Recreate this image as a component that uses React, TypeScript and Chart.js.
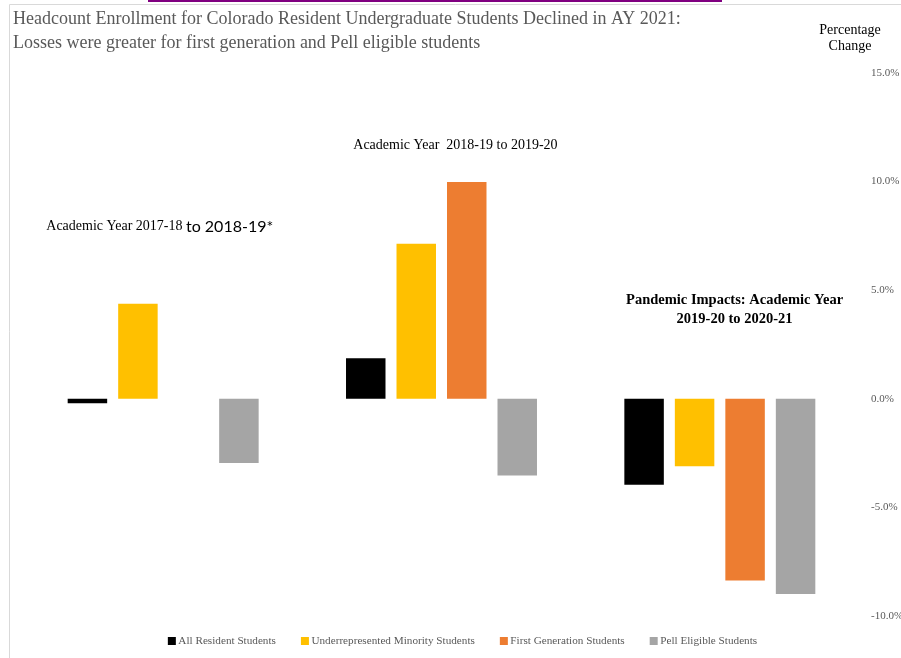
import React, { useEffect, useRef } from "react";
import { Chart, registerables } from "chart.js";

Chart.register(...registerables);

const categories = ["2017-18 to 2018-19", "2018-19 to 2019-20", "2019-20 to 2020-21"];
const seriesNames = [
  "All Resident Students",
  "Underrepresented Minority Students",
  "First Generation Students",
  "Pell Eligible Students",
];
const seriesColors = ["#000000", "#FFC000", "#ED7D31", "#A5A5A5"];
const allResident = [-0.2, 1.87, -3.96];
const underrepresented = [4.38, 7.14, -3.1];
const firstGeneration = [null, 9.98, -8.37];
const pellEligible = [-2.96, -3.53, -8.99];
const yMin = -10;
const yMax = 15;
const yStep = 5;

const titleLines = [
  "Headcount Enrollment for Colorado Resident Undergraduate Students Declined in AY 2021:",
  "Losses were greater for first generation and Pell eligible students",
];
const axisTitleLines = ["Percentage", "Change"];
const groupNote1Serif = "Academic Year 2017-18 ";
const groupNote1Sans = "to 2018-19*";
const groupNote2 = "Academic Year  2018-19 to 2019-20";
const groupNote3 = ["Pandemic Impacts: Academic Year", "2019-20 to 2020-21"];

const SERIF = '"Liberation Serif", "Times New Roman", serif';
const SANS = 'Lato, "Liberation Sans", sans-serif';

const overlayPlugin = {
  id: "overlay",
  afterDraw(chart: any) {
    const ctx = chart.ctx as CanvasRenderingContext2D;
    const xs = chart.scales.x;
    const ys = chart.scales.y;
    const area = chart.chartArea;
    ctx.save();

    // page frame
    ctx.strokeStyle = "#d9d9d9";
    ctx.lineWidth = 1;
    ctx.beginPath();
    ctx.moveTo(9.5, chart.height);
    ctx.lineTo(9.5, 4.5);
    ctx.lineTo(chart.width, 4.5);
    ctx.stroke();
    ctx.fillStyle = "#800080";
    ctx.fillRect(148, 0, 574, 2);

    // title
    ctx.fillStyle = "#595959";
    ctx.textAlign = "left";
    ctx.textBaseline = "alphabetic";
    ctx.font = `18px ${SERIF}`;
    ctx.fillText(titleLines[0], 13, 24);
    ctx.fillText(titleLines[1], 13, 48);

    // axis title
    ctx.fillStyle = "#000000";
    ctx.textAlign = "center";
    ctx.textBaseline = "middle";
    ctx.font = `14px ${SERIF}`;
    const axCx = area.right - 9;
    ctx.fillText(axisTitleLines[0], axCx, 30);
    ctx.fillText(axisTitleLines[1], axCx, 46);

    // group notes
    ctx.textAlign = "left";
    ctx.font = `14px ${SERIF}`;
    const n1x = xs.getPixelForValue(-0.42);
    const n1y = ys.getPixelForValue(7.95);
    ctx.fillText(groupNote1Serif, n1x, n1y);
    const w1 = ctx.measureText(groupNote1Serif).width;
    ctx.font = `16px ${SANS}`;
    ctx.fillText(groupNote1Sans, n1x + w1, n1y + 0.5);

    ctx.textAlign = "center";
    ctx.font = `14px ${SERIF}`;
    ctx.fillText(groupNote2, xs.getPixelForValue(1.05), ys.getPixelForValue(11.66));

    ctx.font = `bold 14.5px ${SERIF}`;
    const n3x = xs.getPixelForValue(2.053);
    ctx.fillText(groupNote3[0], n3x, ys.getPixelForValue(4.56));
    ctx.fillText(groupNote3[1], n3x, ys.getPixelForValue(3.64));

    // legend
    ctx.font = `11.2px ${SERIF}`;
    ctx.textAlign = "left";
    const box = 8;
    const gapText = 2.5;
    const gapItem = 25;
    const datasets = chart.data.datasets;
    const widths = datasets.map((d: any) => box + gapText + ctx.measureText(d.label).width);
    const total = widths.reduce((a: number, b: number) => a + b, 0) + gapItem * (datasets.length - 1);
    let lx = (area.left + area.right) / 2 + 21 - total / 2;
    const ly = 641;
    datasets.forEach((d: any, i: number) => {
      ctx.fillStyle = d.backgroundColor;
      ctx.fillRect(lx, ly - box / 2, box, box);
      ctx.fillStyle = "#595959";
      ctx.fillText(d.label, lx + box + gapText, ly + 0.5);
      lx += widths[i] + gapItem;
    });

    ctx.restore();
  },
};

export default function App() {
  const ref = useRef<HTMLCanvasElement | null>(null);

  useEffect(() => {
    document.body.style.margin = "0";
    const canvas = ref.current;
    if (!canvas) return;
    const seriesData = [allResident, underrepresented, firstGeneration, pellEligible];
    const chart = new Chart(canvas, {
      type: "bar",
      data: {
        labels: categories,
        datasets: seriesData.map((vals, i) => ({
          label: seriesNames[i],
          data: vals as any,
          backgroundColor: seriesColors[i],
          borderWidth: 0,
          categoryPercentage: 0.7257,
          barPercentage: 0.782,
        })),
      },
      options: {
        responsive: false,
        animation: false,
        devicePixelRatio: 1,
        layout: { padding: { left: 24, right: 0, top: 73, bottom: 42 } },
        plugins: {
          legend: { display: false },
          title: { display: false },
          tooltip: { enabled: false },
        },
        scales: {
          x: { display: false },
          y: {
            position: "right",
            min: yMin,
            max: yMax,
            grid: { display: false },
            border: { display: false },
            ticks: {
              stepSize: yStep,
              padding: 4,
              color: "#595959",
              font: { family: SERIF, size: 11 },
              callback: (v: any) => Number(v).toFixed(1) + "%",
            },
            afterFit: (scale: any) => {
              scale.width = 42;
            },
          },
        },
      },
      plugins: [overlayPlugin],
    });
    return () => chart.destroy();
  }, []);

  return (
    <div style={{ position: "fixed", left: 0, top: 0, width: 901, height: 658, background: "#fff" }}>
      <canvas ref={ref} width={901} height={658} style={{ display: "block" }} />
    </div>
  );
}
